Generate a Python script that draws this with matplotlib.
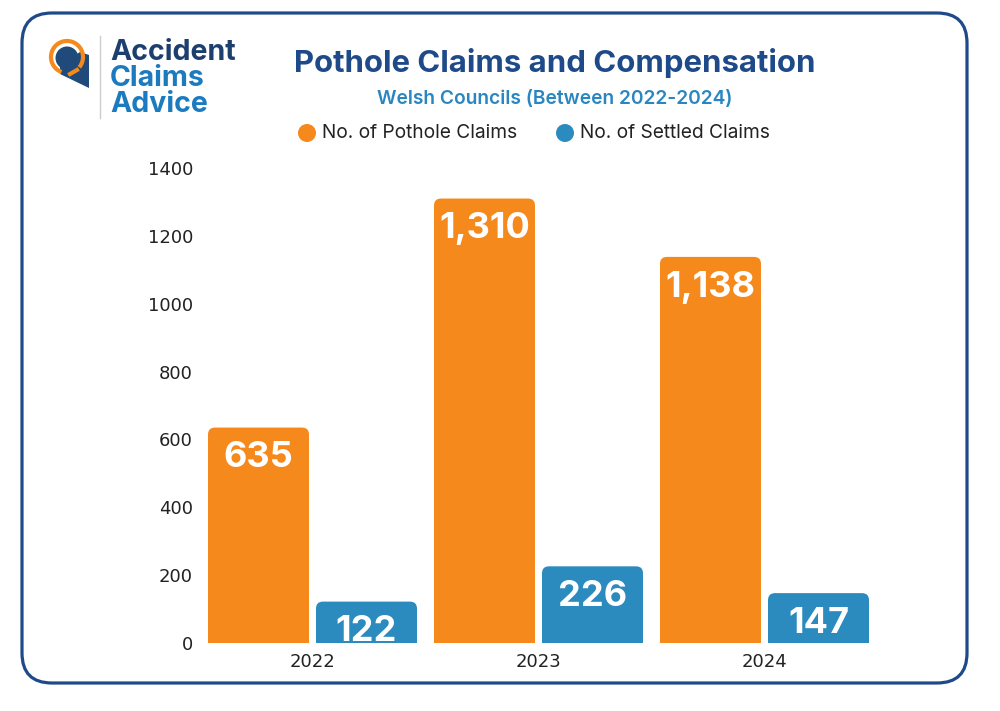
import matplotlib
matplotlib.use("Agg")
import matplotlib.pyplot as plt
import matplotlib.patches as patches
from matplotlib.path import Path
from matplotlib.transforms import IdentityTransform
import numpy as np

# data
years = ['2022', '2023', '2024']
pothole_claims = [635, 1310, 1138]
settled_claims = [122, 226, 147]
series_names = ['No. of Pothole Claims', 'No. of Settled Claims']
yticks = [0, 200, 400, 600, 800, 1000, 1200, 1400]

orange = '#F5891B'
blue = '#2B8BBE'
navy = '#1F4A8A'
FONT = 'Inter'
W, H = 1000, 711
idt = IdentityTransform()

fig = plt.figure(figsize=(10, 7.11), dpi=100)
fig.patch.set_facecolor('white')

# axes placed so that 0 -> y px 643 and 1400 -> y px 168
ax = fig.add_axes([0.2, (H - 643) / H, 0.72, (643 - 168) / H])
ax.set_ylim(0, 1400)
ax.set_xlim((200 - 312.5) / 226, (920 - 312.5) / 226)
for s in ax.spines.values():
    s.set_visible(False)
ax.tick_params(length=0, labelsize=13, colors='#222222')
ax.tick_params(axis='y', pad=5)
ax.set_yticks(yticks)
ax.set_yticklabels([str(t) for t in yticks], family='DejaVu Sans')
x = np.arange(len(years))
ax.set_xticks(x)
ax.set_xticklabels(years, family='DejaVu Sans')
ax.tick_params(axis='x', pad=7)

bw = 101 / 226
off = 54 / 226
# px -> data scale for the rounded corners
rx = 7 / 226
ry = 7 * 1400 / 475


def rounded_bar(xc, h, color):
    x0, x1 = xc - bw / 2, xc + bw / 2
    verts = [(x0, 0), (x0, h - ry), (x0, h), (x0 + rx, h),
             (x1 - rx, h), (x1, h), (x1, h - ry), (x1, 0), (x0, 0)]
    codes = [Path.MOVETO, Path.LINETO, Path.CURVE3, Path.CURVE3,
             Path.LINETO, Path.CURVE3, Path.CURVE3, Path.LINETO, Path.CLOSEPOLY]
    ax.add_patch(patches.PathPatch(Path(verts, codes), facecolor=color,
                                   edgecolor='none', clip_on=False))


def fmt(v):
    return f'{v:,}'


for i in range(len(years)):
    for val, dx, col in [(pothole_claims[i], -off, orange),
                         (settled_claims[i], off, blue)]:
        rounded_bar(x[i] + dx, val, col)
        ax.annotate(fmt(val), (x[i] + dx, val), xytext=(0, -10),
                    textcoords='offset points', ha='center', va='top',
                    color='white', fontsize=26, fontweight='bold',
                    family=FONT)

# titles
fig.text(555 / W, 1 - 63 / H, 'Pothole Claims and Compensation', ha='center',
         va='center', fontsize=22.4, fontweight='bold', color=navy,
         family=FONT)
fig.text(555 / W, 1 - 99 / H, 'Welsh Councils (Between 2022-2024)', ha='center',
         va='center', fontsize=13.8, fontweight='semibold', color='#2A86C0',
         family=FONT)

# legend
for cx, tx, col, name in [(307, 322, orange, series_names[0]),
                          (565, 580, blue, series_names[1])]:
    fig.add_artist(patches.Circle((cx, H - 133), 9, transform=idt,
                                  facecolor=col, edgecolor='none'))
    fig.text(tx / W, 1 - 133 / H, name, ha='left', va='center', fontsize=13.8,
             color='#222222', family=FONT)

# logo
fig.add_artist(plt.Line2D([100 / W, 100 / W], [1 - 36 / H, 1 - 118 / H],
                          color='#cccccc', lw=1))
fig.add_artist(patches.Polygon([(60, H - 65), (80, H - 52), (89, H - 55),
                                (89, H - 88), (60, H - 74)],
                               closed=True, transform=idt,
                               facecolor='#1F4A7A', edgecolor='none'))
fig.add_artist(patches.Arc((67, H - 57), 32, 32, theta1=-40, theta2=250,
                           transform=idt, color=orange, lw=3))
fig.add_artist(plt.Line2D([77, 70], [H - 70, H - 74], transform=idt,
                          color=orange, lw=3))
fig.add_artist(patches.Circle((67, H - 58), 11.5, transform=idt,
                              facecolor='#1F4A7A', edgecolor='none'))
for txt, yy, col in [('Accident', 52, '#1D3F6E'), ('Claims', 78, '#1C7ABF'),
                     ('Advice', 104, '#1C7ABF')]:
    fig.text(110 / W, 1 - yy / H, txt, ha='left', va='center', fontsize=20.5,
             fontweight='bold', color=col, family=FONT)

# border
fig.add_artist(patches.FancyBboxPatch((22 + 30, H - 683 + 30), 945 - 60, 670 - 60,
                                      boxstyle='round,pad=30',
                                      transform=idt,
                                      facecolor='none', edgecolor=navy, lw=2.3))

fig.savefig('out.png', dpi=100, facecolor='white')
